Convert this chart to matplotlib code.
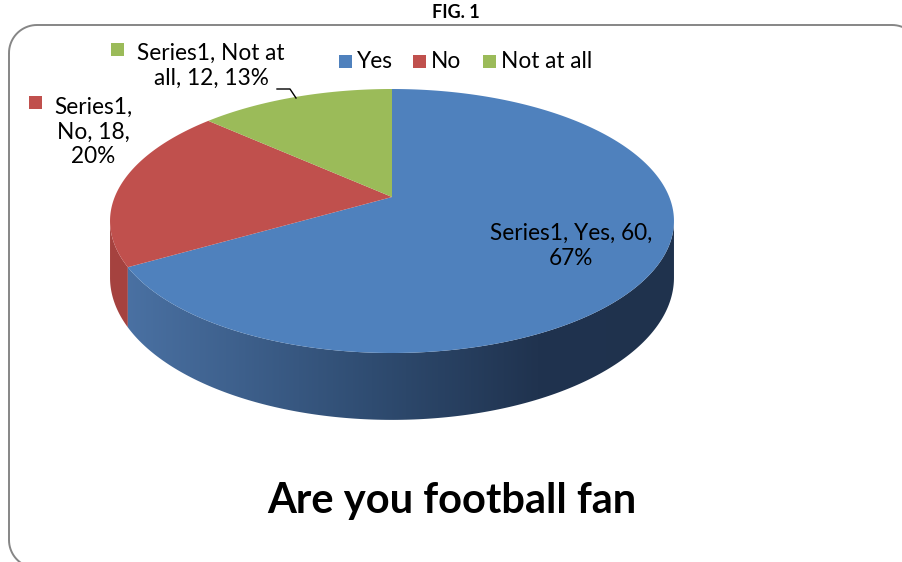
import textwrap
import numpy as np
import matplotlib.pyplot as plt
from matplotlib.patches import Polygon, Rectangle
from matplotlib.colors import LinearSegmentedColormap

plt.rcParams['font.family'] = ['Lato', 'DejaVu Sans']

# data
series_name = 'Series1'
categories = ['Yes', 'No', 'Not at all']
values = [60, 18, 12]
top_colors = ['#4f81bd', '#c0504d', '#9bbb59']
title = 'Are you football fan'
fig_caption = 'FIG. 1'

# perspective of the tilted disc (pixel space)
CX, CY = 392, 197      # where the wedges meet
A, B = 1525, 702       # horizontal / vertical scale
D = 5.5                # camera distance
HH = 301               # thickness of the disc


def proj(t, drop=0.0):
    x, y = np.cos(t), np.sin(t)
    w = D + y
    return CX + A * x / w, CY - B * y / w + drop * HH / w


def rounded_frame(x0, y0, x1, y1, r):
    # corner arcs, going round top-left -> top-right -> bottom-right -> bottom-left
    pts = []
    for cx, cy, a0 in [(x0 + r, y0 + r, 180), (x1 - r, y0 + r, 270),
                       (x1 - r, y1 - r, 0), (x0 + r, y1 - r, 90)]:
        a = np.radians(np.linspace(a0, a0 + 90, 20))
        pts.append(np.column_stack([cx + r * np.cos(a), cy + r * np.sin(a)]))
    return np.vstack(pts)


fig = plt.figure(figsize=(9.02, 5.62), dpi=100)
ax = fig.add_axes([0, 0, 1, 1])
ax.set_xlim(0, 902)
ax.set_ylim(562, 0)
ax.axis('off')

# chart frame
ax.add_patch(Polygon(rounded_frame(9, 25, 920, 568, 28), closed=True,
                     fc='none', ec='#868686', lw=1.4, zorder=1))

vals = np.array(values, dtype=float)
fracs = vals / vals.sum()
# start at 12 o'clock, go clockwise
ends = np.pi / 2 - 2 * np.pi * np.cumsum(fracs)
starts = np.concatenate([[np.pi / 2], ends[:-1]])

# visible part of the rim (front half)
vis_lo = np.pi + np.arcsin(1 / D)
vis_hi = 2 * np.pi - np.arcsin(1 / D)

side_colors = [None, '#a5423f', '#87a34d']
for i in range(len(values)):
    lo, hi = ends[i] % (2 * np.pi), starts[i] % (2 * np.pi)
    if hi <= lo:
        hi += 2 * np.pi
    a, b = max(lo, vis_lo), min(hi, vis_hi)
    if b <= a:
        continue
    t = np.linspace(a, b, 200)
    tx, ty = proj(t)
    bx, by = proj(t[::-1], 1.0)
    poly = Polygon(np.column_stack([np.r_[tx, bx], np.r_[ty, by]]), closed=True,
                   fc=side_colors[i] or top_colors[i], ec='none', zorder=2)
    ax.add_patch(poly)
    if i == 0:
        # shaded side of the big slice
        cmap = LinearSegmentedColormap.from_list('side', [
            (0.0, (74 / 255, 113 / 255, 163 / 255)),
            (0.45, (47 / 255, 76 / 255, 113 / 255)),
            (0.75, (32 / 255, 51 / 255, 79 / 255)),
            (1.0, (31 / 255, 50 / 255, 77 / 255))])
        grad = np.linspace(0, 1, 256)[None, :]
        im = ax.imshow(grad, cmap=cmap, extent=(125, 675, 440, 200), aspect='auto', zorder=3)
        im.set_clip_path(poly)
        poly.set_facecolor('none')

# top face
for i in range(len(values)):
    t = np.linspace(starts[i], ends[i], 300)
    rx, ry = proj(t)
    pts = np.column_stack([np.r_[CX, rx], np.r_[CY, ry]])
    ax.add_patch(Polygon(pts, closed=True, fc=top_colors[i], ec='none', zorder=4))

# data labels
pcts = np.round(fracs * 100).astype(int)
label_text = [f'{series_name}, {c}, {v}, {p}%' for c, v, p in zip(categories, values, pcts)]
wrap = [17, 8, 15]
label_pos = [(571, 246), (93, 132), (211, 66)]
label_marker = [None, (35, 102), (117, 49)]
for i in range(len(values)):
    ax.text(*label_pos[i], textwrap.fill(label_text[i], wrap[i]), ha='center', va='center',
            fontsize=16.3, color='black', linespacing=1.22, zorder=6)
    if label_marker[i]:
        mx, my = label_marker[i]
        ax.add_patch(Rectangle((mx - 6.5, my - 6.5), 13, 13, fc=top_colors[i], ec='none', zorder=6))
ax.plot([277, 290, 296], [89, 89, 98], color='black', lw=1, zorder=6)

# legend
leg_x = [345, 419, 489]
for i, c in enumerate(categories):
    ax.add_patch(Rectangle((leg_x[i] - 6.5, 55), 13, 13, fc=top_colors[i], ec='none', zorder=6))
    ax.text(leg_x[i] + 12, 62, c, ha='left', va='center', fontsize=16.3, zorder=6)

ax.text(452, 501, title, ha='center', va='center', fontsize=30, fontweight='bold')
ax.text(456, 12, fig_caption, ha='center', va='center', fontsize=13, fontweight='bold')

fig.savefig('out.png', dpi=100)
